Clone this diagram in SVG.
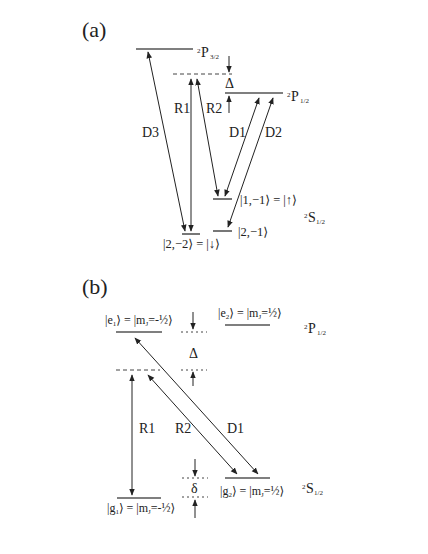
<svg xmlns="http://www.w3.org/2000/svg" width="428" height="554" viewBox="0 0 428 554">
<defs>
<marker id="ah" viewBox="0 0 10 10" refX="9" refY="5" markerWidth="7" markerHeight="7" markerUnits="userSpaceOnUse" orient="auto-start-reverse">
<path d="M0,1 L10,5 L0,9 Z" fill="#222"/>
</marker>
<style>
.lvl{stroke:#555;stroke-width:1.6;fill:none}
.dash{stroke:#444;stroke-width:1;stroke-dasharray:4,3;fill:none}
.dot{stroke:#444;stroke-width:1;stroke-dasharray:2,3;fill:none}
.arr{stroke:#222;stroke-width:1;fill:none;marker-start:url(#ah);marker-end:url(#ah)}
.one{stroke:#222;stroke-width:1;fill:none;marker-end:url(#ah)}
.lab{font-size:14px}
.st{font-size:12.5px}
.sm{font-size:12px}
.tiny{font-size:7px}
</style>
</defs>
<rect width="428" height="554" fill="#fff"/>
<g font-family="'Liberation Serif', 'DejaVu Serif', serif" fill="#222">
<text x="82" y="37" font-size="22">(a)</text>
<text x="82" y="294" font-size="22">(b)</text>

<g id="a-levels">
<g id="a-P32"><line class="lvl" x1="136" y1="49" x2="193" y2="49"/>
<text x="197" y="53" class="tiny">2</text><text x="201" y="57" class="lab">P</text><text x="210" y="59" class="tiny">3/2</text></g>
<g id="a-virtual"><line class="dash" x1="173" y1="74" x2="232" y2="74"/></g>
<g id="a-P12"><line class="lvl" x1="225" y1="93" x2="283" y2="93"/>
<text x="287" y="97" class="tiny">2</text><text x="291" y="101" class="lab">P</text><text x="300" y="103" class="tiny">1/2</text></g>
<g id="a-up"><line class="lvl" x1="213" y1="199" x2="232" y2="199"/><text x="240" y="204" class="st">|1,−1⟩ = |↑⟩</text></g>
<g id="a-21"><line class="lvl" x1="213" y1="231" x2="232" y2="231"/><text x="238" y="236" class="st">|2,−1⟩</text></g>
<g id="a-down"><line class="lvl" x1="182" y1="234" x2="200" y2="234"/><text x="163" y="248" class="st">|2,−2⟩ = |↓⟩</text></g>
<g id="a-S12"><text x="304" y="218" class="tiny">2</text><text x="308" y="222" class="lab">S</text><text x="316" y="224" class="tiny">1/2</text></g>
<g id="a-delta"><text x="225" y="88" class="lab">Δ</text></g>
</g>

<g id="b-levels">
<g id="b-e1"><line class="lvl" x1="116" y1="332" x2="162" y2="332"/>
<text x="105" y="324" class="sm">|e<tspan font-size="7" dy="2">1</tspan><tspan dy="-2">⟩ = |m</tspan><tspan font-size="7" dy="2">J</tspan><tspan dy="-2">=-½⟩</tspan></text></g>
<g id="b-e2"><line class="lvl" x1="225" y1="325" x2="270" y2="325"/>
<text x="218" y="317" class="sm">|e<tspan font-size="7" dy="2">2</tspan><tspan dy="-2">⟩ = |m</tspan><tspan font-size="7" dy="2">J</tspan><tspan dy="-2">=½⟩</tspan></text></g>
<g id="b-P12"><text x="304" y="329" class="tiny">2</text><text x="308" y="333" class="lab">P</text><text x="317" y="335" class="tiny">1/2</text></g>
<g id="b-virtual"><line class="dash" x1="116" y1="370" x2="160" y2="370"/></g>
<g id="b-g1"><line class="lvl" x1="117" y1="498" x2="161" y2="498"/>
<text x="107" y="512" class="sm">|g<tspan font-size="7" dy="2">1</tspan><tspan dy="-2">⟩ = |m</tspan><tspan font-size="7" dy="2">J</tspan><tspan dy="-2">=-½⟩</tspan></text></g>
<g id="b-g2"><line class="lvl" x1="225" y1="478" x2="270" y2="478"/>
<text x="220" y="495" class="sm">|g<tspan font-size="7" dy="2">2</tspan><tspan dy="-2">⟩ = |m</tspan><tspan font-size="7" dy="2">J</tspan><tspan dy="-2">=½⟩</tspan></text></g>
<g id="b-S12"><text x="302" y="489" class="tiny">2</text><text x="306" y="493" class="lab">S</text><text x="314" y="495" class="tiny">1/2</text></g>
<g id="b-Delta"><line class="dot" x1="181" y1="332" x2="207" y2="332"/><line class="dot" x1="181" y1="370" x2="207" y2="370"/><text x="189" y="358" class="lab">Δ</text></g>
<g id="b-delta"><line class="dot" x1="182" y1="478" x2="208" y2="478"/><line class="dot" x1="182" y1="497" x2="208" y2="497"/><text x="191" y="493" class="lab">δ</text></g>
</g>

<g id="labels">
<text x="174" y="113" class="lab">R1</text>
<text x="206" y="113" class="lab">R2</text>
<text x="142" y="137" class="lab">D3</text>
<text x="229" y="137" class="lab">D1</text>
<text x="265" y="137" class="lab">D2</text>
<text x="139" y="433" class="lab">R1</text>
<text x="175" y="433" class="lab">R2</text>
<text x="227" y="433" class="lab">D1</text>
</g>
</g>

<g id="connectors">
<line class="arr" x1="148" y1="52" x2="185" y2="231"/>
<line class="arr" x1="191" y1="79" x2="191" y2="231"/>
<line class="arr" x1="197" y1="79" x2="218" y2="196"/>
<line class="arr" x1="225" y1="196" x2="259" y2="98"/>
<line class="arr" x1="273" y1="98" x2="228" y2="227"/>
<line class="one" x1="229" y1="56" x2="229" y2="72"/>
<line class="one" x1="229" y1="113" x2="229" y2="96"/>
<line class="arr" x1="132" y1="375" x2="132" y2="495"/>
<line class="arr" x1="148" y1="375" x2="237" y2="474"/>
<line class="arr" x1="135" y1="338" x2="258" y2="474"/>
<line class="one" x1="193" y1="312" x2="193" y2="329"/>
<line class="one" x1="193" y1="386" x2="193" y2="372"/>
<line class="one" x1="195" y1="459" x2="195" y2="476"/>
<line class="one" x1="195" y1="518" x2="195" y2="500"/>
</g>
</svg>
